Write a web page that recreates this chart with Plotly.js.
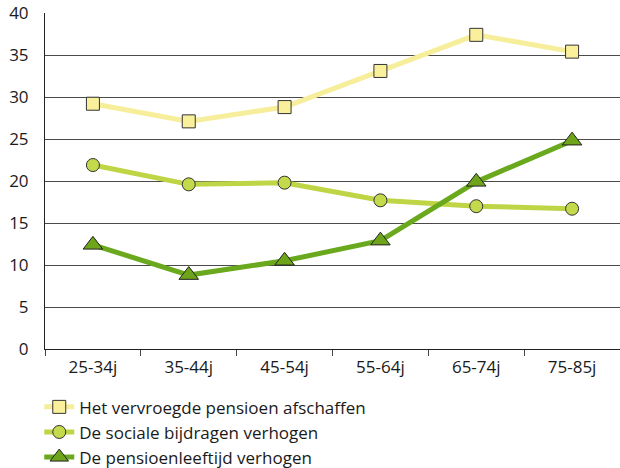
<!DOCTYPE html>
<html><head><meta charset="utf-8">
<script src="https://cdn.plot.ly/plotly-3.0.1.min.js"></script>
<style>body{margin:0;padding:0;background:#fff}#chart{width:620px;height:468px}</style>
</head><body><div id="chart"></div>
<script>
const categories = ["25-34j","35-44j","45-54j","55-64j","65-74j","75-85j"];
const seriesNames = ["Het vervroegde pensioen afschaffen","De sociale bijdragen verhogen","De pensioenleeftijd verhogen"];
const vervroegd = [29.2, 27.1, 28.8, 33.1, 37.4, 35.4];
const sociale = [21.9, 19.6, 19.8, 17.7, 17.0, 16.7];
const leeftijd = [12.4, 8.8, 10.5, 12.9, 19.9, 24.8];
const yTicks = [0,5,10,15,20,25,30,35,40];

const font = "'Open Sans', 'Noto Sans', sans-serif";
const traces = [
  {x: categories, y: vervroegd, name: seriesNames[0], mode: "lines+markers", type: "scatter",
   line: {color: "#f7ee9c", width: 5},
   marker: {symbol: "square", size: 13, color: "#faf09c", line: {color: "#333", width: 1}}},
  {x: categories, y: sociale, name: seriesNames[1], mode: "lines+markers", type: "scatter",
   line: {color: "#bfd545", width: 5},
   marker: {symbol: "circle", size: 13, color: "#c4d94b", line: {color: "#333", width: 1}}},
  {x: categories, y: leeftijd, name: seriesNames[2], mode: "lines+markers", type: "scatter",
   line: {color: "#6aa91d", width: 5},
   marker: {symbol: "triangle-up", size: 17, color: "#6ea41a", line: {color: "#222", width: 1}}}
];
const layout = {
  width: 620, height: 468,
  margin: {l: 45, r: 0, t: 13, b: 119, autoexpand: false},
  paper_bgcolor: "#fff", plot_bgcolor: "#fff",
  font: {family: font, size: 17, color: "#1a1a1a"},
  showlegend: true,
  legend: {orientation: "v", x: -0.01, xanchor: "left", y: -0.12, yanchor: "top",
           font: {family: font, size: 17, color: "#1a1a1a"}, tracegroupgap: 0,
           bgcolor: "rgba(0,0,0,0)"},
  xaxis: {type: "category", showline: true, linecolor: "#222", linewidth: 1,
          ticks: "outside", tickson: "boundaries", ticklen: 6, tickcolor: "#444",
          showgrid: false, tickfont: {size: 17, family: font}, ticklabelstandoff: 3,
          range: [-0.5, 5.5], fixedrange: true},
  yaxis: {range: [0, 40], tickvals: yTicks, showline: true, linecolor: "#222", linewidth: 1,
          showgrid: true, gridcolor: "#4a4a4a", gridwidth: 1, ticks: "", ticklabelstandoff: 12,
          tickfont: {size: 17, family: font}, zeroline: false}
};
Plotly.newPlot("chart", traces, layout, {displayModeBar: false, staticPlot: true});
</script></body></html>
